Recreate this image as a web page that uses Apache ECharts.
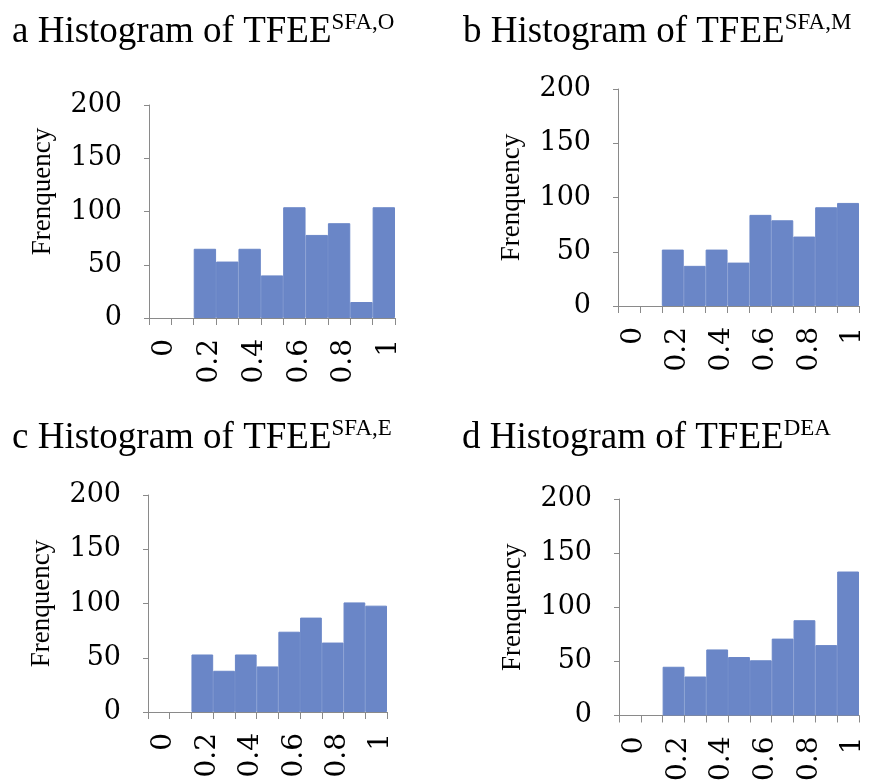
<!DOCTYPE html>
<html>
<head>
<meta charset="utf-8">
<script src="https://cdn.jsdelivr.net/npm/echarts@6/dist/echarts.min.js"></script>
<style>
html,body{margin:0;padding:0;background:#fff;}
#chart{width:873px;height:784px;}
</style>
</head>
<body>
<div id="chart"></div>
<script>
// ---- data ----
const binLabels = ['0','0.1','0.2','0.3','0.4','0.5','0.6','0.7','0.8','0.9','1'];
const freqSFA_O = [0,0,65,53,65,40,104,78,89,15,104];
const freqSFA_M = [0,0,52,37,52,40,84,79,64,91,95];
const freqSFA_E = [0,0,53,38,53,42,74,87,64,101,98];
const freqDEA   = [0,0,45,36,61,54,51,71,88,65,133];
const panelLetters = ['a','b','c','d'];
const panelSups = ['SFA,O','SFA,M','SFA,E','DEA'];
const yMin = 0, yMax = 200, yStep = 50;
const yName = 'Frenquency';

// ---- layout ----
const grids = [
  {left:149, top:105, width:246, height:213},
  {left:618, top:89,  width:241, height:217},
  {left:148, top:495, width:239, height:217},
  {left:619, top:499, width:240, height:218}
];
const titlePos = [
  {left:12, top:11},
  {left:463, top:11},
  {left:12, top:417},
  {left:462, top:417}
];
const seriesData = [freqSFA_O, freqSFA_M, freqSFA_E, freqDEA];
const namePad = [[0,0,0,40],[0,0,0,0],[0,0,0,0],[0,0,0,0]];

const axisGray = '#8a8a8a';
const barColor = '#6a86c7';
const tickFont = 'DejaVu Serif';
const textFont = 'Liberation Serif';

const option = {
  backgroundColor:'#fff',
  animation:false,
  title: titlePos.map((p,i)=>({
    left:p.left, top:p.top, padding:0,
    text:'{m|' + panelLetters[i] + ' Histogram of TFEE}{s|' + panelSups[i] + '}',
    textStyle:{
      fontWeight:'normal',
      rich:{
        m:{fontFamily:textFont, fontSize:37, fontWeight:'normal', color:'#000', lineHeight:40, verticalAlign:'bottom'},
        s:{fontFamily:textFont, fontSize:23, fontWeight:'normal', color:'#000', lineHeight:36, verticalAlign:'top'}
      }
    }
  })),
  grid: grids.map(g=>Object.assign({containLabel:false}, g)),
  xAxis: grids.map((g,i)=>({
    type:'category', gridIndex:i, data:binLabels,
    axisLine:{lineStyle:{color:axisGray, width:1}},
    axisTick:{show:true, interval:0, length:7, lineStyle:{color:axisGray}},
    axisLabel:{
      interval:1, rotate:90, margin:21, showMinLabel:true, showMaxLabel:true, hideOverlap:false,
      formatter: v => '{v|' + v + '}',
      rich:{v:{color:'#000', fontFamily:tickFont, fontSize:28, lineHeight:28, padding:[10,0,0,0]}}
    },
    splitLine:{show:false}
  })),
  yAxis: grids.map((g,i)=>({
    type:'value', gridIndex:i, min:yMin, max:yMax, interval:yStep,
    name:yName, nameLocation:'middle', nameGap:93, nameRotate:90,
    nameTextStyle:{fontFamily:textFont, fontSize:27, color:'#000', padding:namePad[i]},
    axisLine:{show:true, lineStyle:{color:axisGray, width:1}},
    axisTick:{show:true, length:5, lineStyle:{color:axisGray}},
    axisLabel:{margin:27, color:'#000', fontFamily:tickFont, fontSize:27},
    splitLine:{show:false}
  })),
  series: seriesData.map((d,i)=>({
    type:'bar', xAxisIndex:i, yAxisIndex:i,
    data:d.map(v => v === 0 ? {value:v, itemStyle:{borderWidth:0}} : v),
    barCategoryGap:0, barGap:0,
    itemStyle:{color:barColor, borderColor:barColor, borderWidth:1}
  }))
};
const chart = echarts.init(document.getElementById('chart'), null, {renderer:'canvas'});
chart.setOption(option);
</script>
</body>
</html>
